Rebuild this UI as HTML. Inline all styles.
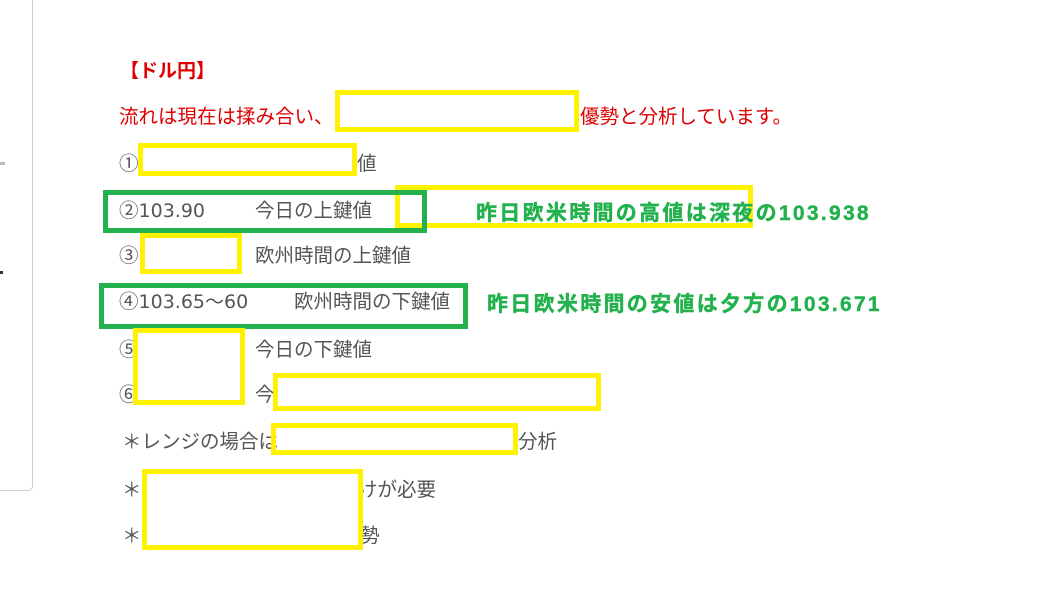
<!DOCTYPE html>
<html><head><meta charset="utf-8"><style>
body{margin:0;width:1045px;height:600px;background:#fff;position:relative;overflow:hidden;font-family:"Liberation Sans","Noto Sans CJK JP",sans-serif;}
.t{position:absolute;font-size:19.5px;color:#555;white-space:nowrap;line-height:1;}
.n{font-family:"DejaVu Sans","Noto Sans CJK JP",sans-serif;font-size:19px;}
.r{color:#e00000;}
.b{position:absolute;border:5px solid #fff200;box-sizing:border-box;}
.g{position:absolute;border:5px solid #22b14c;box-sizing:border-box;}
.gt{position:absolute;color:#22b14c;font-weight:bold;font-size:21px;letter-spacing:2.3px;white-space:nowrap;line-height:1;-webkit-text-stroke:0.4px #22b14c;}
</style></head><body>
<div style="position:absolute;left:-10px;top:-10px;width:41px;height:499px;border:1px solid #ccc;border-radius:5px;"></div>
<div style="position:absolute;left:0;top:162px;width:5px;height:3px;background:#bbb"></div>
<div style="position:absolute;left:0;top:271px;width:3px;height:3px;background:#333"></div>

<div class="t r" style="left:120px;top:62px;font-weight:bold;font-size:19px">【ドル円】</div>
<div class="t r" style="left:119px;top:108px">流れは現在は揉み合い、</div>
<div class="t r" style="left:580px;top:108px">優勢と分析しています。</div>
<div class="t" style="left:119px;top:155px">①</div>
<div class="t" style="left:357px;top:155px">値</div>
<div class="t" style="left:119px;top:202px">②<span class="n">103.90</span></div>
<div class="t" style="left:255px;top:202px">今日の上鍵値</div>
<div class="t" style="left:119px;top:247px">③</div>
<div class="t" style="left:255px;top:247px">欧州時間の上鍵値</div>
<div class="t" style="left:119px;top:293px">④<span class="n">103.65～60</span></div>
<div class="t" style="left:294px;top:293px">欧州時間の下鍵値</div>
<div class="t" style="left:119px;top:341px">⑤</div>
<div class="t" style="left:255px;top:341px">今日の下鍵値</div>
<div class="t" style="left:119px;top:386px">⑥</div>
<div class="t" style="left:255px;top:386px">今</div>
<div class="t" style="left:122px;top:433px">＊レンジの場合は</div>
<div class="t" style="left:518px;top:433px">分析</div>
<div class="t" style="left:122px;top:481px">＊</div>
<div class="t" style="left:358px;top:481px">けが必要</div>
<div class="t" style="left:122px;top:527px">＊</div>
<div class="t" style="left:360px;top:527px">勢</div>

<div class="b" style="left:335px;top:90px;width:244px;height:42px"></div>
<div class="b" style="left:138px;top:143px;width:219px;height:33px"></div>
<div class="b" style="left:395px;top:185px;width:358px;height:43px"></div>
<div class="g" style="left:103px;top:190px;width:324px;height:43px"></div>
<div class="b" style="left:140px;top:233px;width:102px;height:41px"></div>
<div class="g" style="left:99px;top:283px;width:369px;height:46px"></div>
<div class="b" style="left:133px;top:328px;width:112px;height:77px"></div>
<div class="b" style="left:273px;top:373px;width:328px;height:38px"></div>
<div class="b" style="left:271px;top:423px;width:247px;height:32px"></div>
<div class="b" style="left:142px;top:469px;width:221px;height:81px"></div>

<div class="gt" style="left:476px;top:203px">昨日欧米時間の高値は深夜の103.938</div>
<div class="gt" style="left:487px;top:294px">昨日欧米時間の安値は夕方の103.671</div>
</body></html>
